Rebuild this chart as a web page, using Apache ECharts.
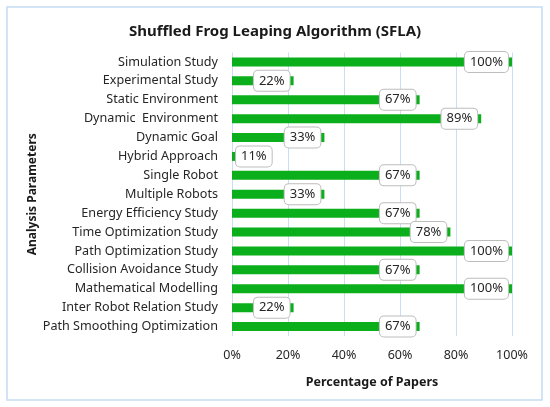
<!DOCTYPE html>
<html>
<head>
<meta charset="utf-8">
<script src="https://cdn.jsdelivr.net/npm/echarts@6/dist/echarts.min.js"></script>
<style>
  html, body { margin: 0; padding: 0; background: #fff; }
  #chart { width: 550px; height: 407px; }
</style>
</head>
<body>
<div id="chart"></div>
<script>
// categories top to bottom, as in the picture
var categories = [
    'Simulation Study',
    'Experimental Study',
    'Static Environment',
    'Dynamic  Environment',
    'Dynamic Goal',
    'Hybrid Approach',
    'Single Robot',
    'Multiple Robots',
    'Energy Efficiency Study',
    'Time Optimization Study',
    'Path Optimization Study',
    'Collision Avoidance Study',
    'Mathematical Modelling',
    'Inter Robot Relation Study',
    'Path Smoothing Optimization'
];
// percentage of papers
var percents = [100, 22, 67, 89, 33, 11, 67, 33, 67, 78, 100, 67, 100, 22, 67];
var xTicks = [0, 20, 40, 60, 80, 100];

var font = 'Noto Sans';

// small bars can't hold the label inside, put it at the left then
var barData = percents.map(function (v) {
    return {
        value: v,
        label: { position: v < 15 ? 'insideLeft' : 'insideRight' }
    };
});

var option = {
    backgroundColor: '#fff',
    animation: false,
    title: {
        text: 'Shuffled Frog Leaping Algorithm (SFLA)',
        left: 'center',
        top: 19,
        textStyle: { fontFamily: font, fontSize: 15, fontWeight: 'bold', color: '#1a1a1a' }
    },
    graphic: [{
        type: 'rect',
        shape: { x: 7, y: 7, width: 535, height: 393 },
        style: { fill: 'none', stroke: '#c4dcf2', lineWidth: 1.5 },
        silent: true
    }],
    grid: { left: 232, right: 38, top: 52.5, bottom: 71 },
    xAxis: {
        type: 'value',
        min: xTicks[0],
        max: xTicks[xTicks.length - 1],
        interval: 20,
        name: 'Percentage of Papers',
        nameLocation: 'middle',
        nameGap: 40,
        nameTextStyle: { fontFamily: font, fontSize: 12.5, fontWeight: 'bold', color: '#1a1a1a' },
        axisLine: { show: false },
        axisTick: { show: false },
        axisLabel: {
            margin: 13,
            fontFamily: font,
            fontSize: 12.5,
            color: '#262626',
            formatter: '{value}%'
        },
        splitLine: { show: true, lineStyle: { color: '#c9def2', width: 1 } }
    },
    yAxis: {
        type: 'category',
        data: categories,
        inverse: true,
        name: 'Analysis Parameters',
        nameLocation: 'middle',
        nameGap: 193,
        nameRotate: 90,
        nameMoveOverlap: false,
        nameTextStyle: { fontFamily: font, fontSize: 12, fontWeight: 'bold', color: '#1a1a1a' },
        axisLine: { show: false },
        axisTick: { show: false },
        axisLabel: {
            margin: 14,
            fontFamily: font,
            fontSize: 12.6,
            color: '#262626'
        }
    },
    series: [{
        type: 'bar',
        data: barData,
        barWidth: 9,
        itemStyle: { color: '#0bae1b' },
        label: {
            show: true,
            distance: 4,
            formatter: '{c}%',
            fontFamily: font,
            fontSize: 13,
            color: '#262626',
            backgroundColor: '#fff',
            borderColor: '#bdbdbd',
            borderWidth: 1,
            borderRadius: 4,
            padding: [4, 5, 3, 5]
        }
    }]
};

var chart = echarts.init(document.getElementById('chart'));
chart.setOption(option);
</script>
</body>
</html>
